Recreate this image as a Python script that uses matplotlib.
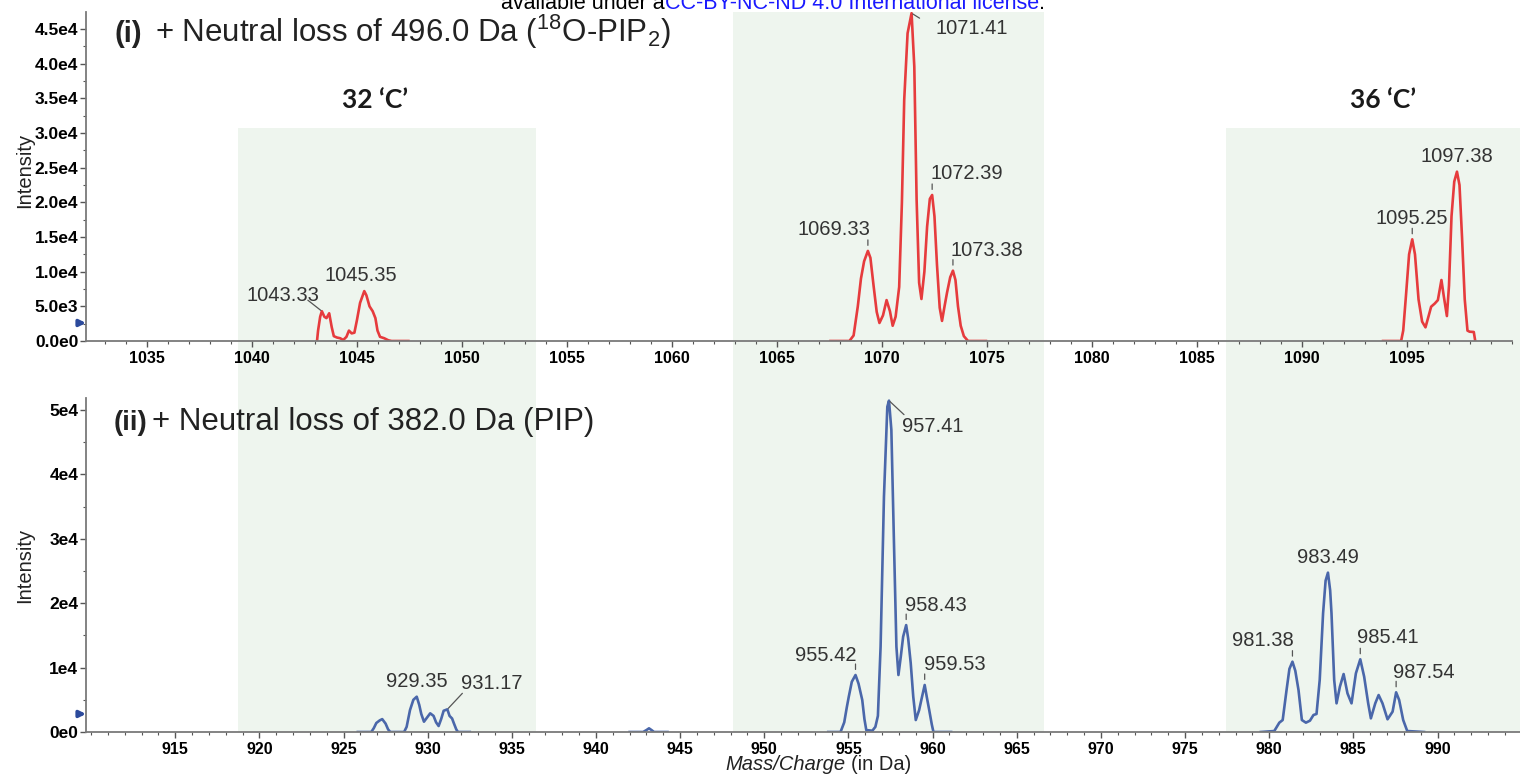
import matplotlib
matplotlib.use('Agg')
import matplotlib.pyplot as plt
from matplotlib.patches import Rectangle
from matplotlib.ticker import MultipleLocator, FixedLocator

plt.rcParams['font.family'] = ['Liberation Sans', 'DejaVu Sans']

W, H = 1520, 778

# ---- (i) neutral loss of 496.0 Da (18O-PIP2), one list pair per cluster ----
pip2_mz_32c = [1043.10, 1043.15, 1043.25, 1043.33, 1043.45, 1043.55, 1043.68, 1043.80,
               1043.90, 1044.05, 1044.20, 1044.35, 1044.50, 1044.62, 1044.75, 1044.88,
               1045.00, 1045.15, 1045.35, 1045.45, 1045.60, 1045.75, 1045.88, 1045.98,
               1046.10, 1046.30, 1046.50, 1046.65, 1047.45]
pip2_int_32c = [0, 1500, 3500, 4300, 3500, 3300, 4000, 2000,
                700, 500, 400, 150, 600, 1500, 1100, 1200,
                3000, 5500, 7200, 6600, 5000, 4300, 3300, 1500,
                600, 400, 100, 0, 0]

pip2_mz_34c = [1067.55, 1068.45, 1068.65, 1068.85, 1069.00, 1069.15, 1069.33, 1069.45,
               1069.60, 1069.75, 1069.88, 1070.05, 1070.22, 1070.38, 1070.51, 1070.65,
               1070.82, 1070.95, 1071.06, 1071.22, 1071.41, 1071.54, 1071.65, 1071.77,
               1071.88, 1072.02, 1072.15, 1072.28, 1072.39, 1072.50, 1072.62, 1072.75,
               1072.86, 1072.98, 1073.10, 1073.25, 1073.38, 1073.50, 1073.62, 1073.75,
               1073.90, 1074.10, 1074.95]
pip2_int_34c = [0, 0, 800, 5000, 9000, 11500, 13000, 12000,
                8000, 4200, 2600, 3700, 5900, 4300, 2200, 3500,
                7800, 20000, 34800, 44400, 47300, 39600, 20400, 8400,
                6060, 10000, 16500, 20500, 21070, 18000, 11000, 4800,
                2900, 5000, 7000, 9200, 10150, 8800, 5000, 2200,
                700, 0, 0]

pip2_mz_36c = [1093.86, 1094.72, 1094.82, 1094.95, 1095.10, 1095.25, 1095.38, 1095.55,
               1095.72, 1095.88, 1096.02, 1096.15, 1096.32, 1096.47, 1096.64, 1096.75,
               1096.90, 1097.00, 1097.12, 1097.25, 1097.38, 1097.50, 1097.62, 1097.75,
               1097.88, 1097.98, 1098.18, 1098.25]
pip2_int_36c = [0, 0, 1500, 6500, 12500, 14670, 12500, 6000,
                2800, 1970, 3500, 4950, 5400, 5900, 8800, 6500,
                3600, 8000, 18000, 23000, 24430, 22500, 15000, 6000,
                1500, 1340, 1300, 0]

pip2_peaks = [1043.33, 1045.35, 1069.33, 1071.41, 1072.39, 1073.38, 1095.25, 1097.38]

# ---- (ii) neutral loss of 382.0 Da (PIP) ----
pip_mz_32c = [925.85, 926.65, 926.80, 926.95, 927.15, 927.30, 927.50, 927.65, 927.78,
              928.60, 928.75, 928.95, 929.15, 929.35, 929.50, 929.62, 929.78, 929.95,
              930.15, 930.35, 930.50, 930.65, 930.80, 930.95, 931.17, 931.30, 931.45,
              931.55, 931.70, 931.80, 932.50]
pip_int_32c = [0, 0, 600, 1400, 1800, 2000, 1300, 400, 0,
               0, 800, 3400, 5000, 5480, 4200, 2800, 1600, 2200,
               2900, 2500, 1500, 930, 2000, 3300, 3520, 2500, 2100,
               1400, 400, 0, 0]

pip_mz_943 = [942.00, 942.80, 943.00, 943.15, 943.30, 943.45, 944.25]
pip_int_943 = [0, 0, 300, 570, 300, 0, 0]

pip_mz_34c = [953.80, 954.53, 954.75, 954.90, 955.02, 955.20, 955.42, 955.60, 955.82,
              955.95, 956.06, 956.42, 956.60, 956.75, 956.91, 957.11, 957.31, 957.41,
              957.55, 957.71, 957.85, 957.97, 958.11, 958.25, 958.43, 958.55, 958.70,
              958.85, 959.00, 959.20, 959.35, 959.53, 959.65, 959.80, 959.95, 960.05,
              961.10]
pip_int_34c = [0, 0, 1500, 3800, 5480, 7800, 8850, 7500, 4970,
               2000, 300, 200, 800, 2500, 13250, 36540, 50500, 51450,
               46900, 28780, 13250, 8850, 11700, 14800, 16600, 14500, 10700,
               5500, 1860, 3400, 5200, 7300, 5500, 3400, 1200, 0,
               0]

pip_mz_36c = [979.50, 980.30, 980.60, 980.80, 981.03, 981.20, 981.38, 981.55, 981.74,
              981.94, 982.18, 982.42, 982.63, 982.81, 983.00, 983.20, 983.35, 983.49,
              983.62, 983.70, 983.86, 984.00, 984.20, 984.42, 984.65, 984.89, 985.15,
              985.41, 985.64, 985.88, 986.04, 986.30, 986.50, 986.73, 987.03, 987.33,
              987.54, 987.72, 987.96, 988.20, 989.20]
pip_int_36c = [0, 150, 1450, 1860, 6520, 9800, 10920, 9500, 6520,
               1860, 1450, 1760, 2640, 2800, 8070, 18430, 23500, 24740,
               22000, 18430, 8070, 4450, 7040, 9000, 6000, 4450, 9110,
               11290, 8600, 4450, 2120, 4450, 5740, 4450, 1970, 3160,
               6160, 4970, 1860, 150, 0]

pip_peaks = [929.35, 931.17, 955.42, 957.41, 958.43, 959.53, 981.38, 983.49, 985.41, 987.54]

top_xticks = list(range(1035, 1100, 5))
bot_xticks = list(range(915, 995, 5))
top_yticks = [0, 5000, 10000, 15000, 20000, 25000, 30000, 35000, 40000, 45000]
top_yticklabels = ['0.0e0', '5.0e3', '1.0e4', '1.5e4', '2.0e4', '2.5e4',
                   '3.0e4', '3.5e4', '4.0e4', '4.5e4']
bot_yticks = [0, 10000, 20000, 30000, 40000, 50000]
bot_yticklabels = ['0e0', '1e4', '2e4', '3e4', '4e4', '5e4']

RED = '#e63b3d'
BLUE = '#4a67aa'
SHADE = '#eef5ee'
LABEL_C = '#333333'


def fx(px):
    return px / W


def fy(py):
    return 1 - py / H


fig = plt.figure(figsize=(W / 100, H / 100), dpi=100)

# carbon-number windows, drawn across both panels
for x0, y0, x1, y1 in [(238, 128, 536, 732), (733, 12, 1044, 732), (1226, 128, 1520, 732)]:
    fig.add_artist(Rectangle((fx(x0), fy(y1)), fx(x1) - fx(x0), fy(y0) - fy(y1),
                             transform=fig.transFigure, facecolor=SHADE,
                             edgecolor='none', zorder=-5))

ax1 = fig.add_axes([fx(86), fy(341), fx(1512) - fx(86), fy(12) - fy(341)])
ax2 = fig.add_axes([fx(86), fy(732), fx(1520) - fx(86), fy(398) - fy(732)])


def style_axis(ax, xticks, yticks, yticklabels):
    ax.set_facecolor('none')
    for s in ['top', 'right']:
        ax.spines[s].set_visible(False)
    for s in ['left', 'bottom']:
        ax.spines[s].set_color('#7a7a7a')
        ax.spines[s].set_linewidth(1.3)
    ax.xaxis.set_major_locator(FixedLocator(xticks))
    ax.xaxis.set_minor_locator(MultipleLocator(1))
    ax.yaxis.set_major_locator(FixedLocator(yticks))
    ax.set_yticklabels(yticklabels)
    ax.yaxis.set_minor_locator(MultipleLocator(yticks[1] / 2))
    ax.tick_params(which='major', length=4, width=1, color='#555555')
    ax.tick_params(axis='x', which='major', labelsize=11.5, pad=3)
    ax.tick_params(axis='y', which='major', labelsize=12.5, pad=1.5)
    ax.tick_params(which='minor', length=2, width=0.8, color='#555555')
    for t in ax.get_xticklabels() + ax.get_yticklabels():
        t.set_fontweight('bold')


def peak_height(mzs, ints, x):
    for m, v in zip(mzs, ints):
        if abs(m - x) < 1e-6:
            return v
    return 0


# top panel traces
for mz, inten in [(pip2_mz_32c, pip2_int_32c), (pip2_mz_34c, pip2_int_34c),
                  (pip2_mz_36c, pip2_int_36c)]:
    ax1.plot(mz, inten, color=RED, lw=1.9, solid_joinstyle='round')
ax1.set_xlim(1032.1, 1100.0)
ax1.set_ylim(0, 47470)
style_axis(ax1, top_xticks, top_yticks, top_yticklabels)

# bottom panel traces
for mz, inten in [(pip_mz_32c, pip_int_32c), (pip_mz_943, pip_int_943),
                  (pip_mz_34c, pip_int_34c), (pip_mz_36c, pip_int_36c)]:
    ax2.plot(mz, inten, color=BLUE, lw=1.9, solid_joinstyle='round')
ax2.set_xlim(909.7, 994.9)
ax2.set_ylim(0, 51860)
style_axis(ax2, bot_xticks, bot_yticks, bot_yticklabels)

# label placement: text offset (px) and leader style
top_place = {1043.33: (-39, 16, (-14, 11)), 1045.35: (-3, 16, None),
             1069.33: (-34, 21, 'tick'), 1071.41: (60, -15, (8, -5)),
             1072.39: (35, 21, 'tick'), 1073.38: (34, 20, 'tick'),
             1095.25: (0, 21, 'tick'), 1097.38: (0, 15, None)}
bot_place = {929.35: (0, 15, None), 931.17: (44, 26, (15, 16)),
             955.42: (-30, 20, 'tick'), 957.41: (44, -26, (15, -14)),
             958.43: (30, 20, 'tick'), 959.53: (30, 20, 'tick'),
             981.38: (-30, 21, 'tick'), 983.49: (0, 15, None),
             985.41: (28, 22, 'tick'), 987.54: (28, 20, 'tick')}


def label_peaks(ax, peaks, place, series):
    for p in peaks:
        h = max(peak_height(m, v, p) for m, v in series)
        dx, dy, leader = place[p]
        ax.annotate(f'{p:.2f}', xy=(p, h), xytext=(dx, dy), textcoords='offset pixels',
                    ha='center', va='center', fontsize=14.5, color=LABEL_C)
        if leader == 'tick':
            ax.annotate('', xy=(p, h), xytext=(0, 11), textcoords='offset pixels',
                        arrowprops=dict(arrowstyle='-', color='#555555', lw=0.9,
                                        shrinkA=0, shrinkB=4))
        elif leader is not None:
            ax.annotate('', xy=(p, h), xytext=leader, textcoords='offset pixels',
                        arrowprops=dict(arrowstyle='-', color='#555555', lw=0.9,
                                        shrinkA=0, shrinkB=1))


label_peaks(ax1, pip2_peaks, top_place,
            [(pip2_mz_32c, pip2_int_32c), (pip2_mz_34c, pip2_int_34c),
             (pip2_mz_36c, pip2_int_36c)])
label_peaks(ax2, pip_peaks, bot_place,
            [(pip_mz_32c, pip_int_32c), (pip_mz_34c, pip_int_34c),
             (pip_mz_36c, pip_int_36c)])

# small baseline markers on the y axes
for ax, yv in [(ax1, 2600), (ax2, 2800)]:
    ax.annotate('', xy=(0, yv), xycoords=('axes fraction', 'data'),
                xytext=(-8, 0), textcoords='offset pixels',
                arrowprops=dict(arrowstyle='-|>', color='#2c4a9c', lw=2.5,
                                mutation_scale=9, shrinkA=0, shrinkB=0),
                annotation_clip=False)

# panel titles
fig.text(fx(115), fy(42), '(i)', fontsize=21, fontweight='bold', color='#222222',
         va='baseline', ha='left')
fig.text(fx(155), fy(42), r'+ Neutral loss of 496.0 Da ($^{\mathregular{18}}$O-PIP$_{\mathregular{2}}$)',
         fontsize=22.5, color='#222222', va='baseline', ha='left')

fig.text(fx(114), fy(430), '(ii)', fontsize=20, fontweight='bold', color='#222222',
         va='baseline', ha='left')
fig.text(fx(152), fy(430), '+ Neutral loss of 382.0 Da (PIP)', fontsize=22.5,
         color='#222222', va='baseline', ha='left')

# carbon-number headings
for px, txt in [(375, '32 \u2018C\u2019'), (1383, '36 \u2018C\u2019')]:
    fig.text(fx(px), fy(100), txt, fontsize=19, fontweight='bold', color='#1a1a1a',
             ha='center', va='center', family=['Lato', 'Liberation Sans'])

# axis titles
for py in [170, 565]:
    fig.text(fx(25), fy(py), 'Intensity', rotation=90, fontsize=14.5,
             ha='center', va='center', color='#222222')
fig.text(fx(846), fy(765), 'Mass/Charge', fontsize=14.5, style='italic',
         ha='right', va='center', color='#222222')
fig.text(fx(851), fy(765), '(in Da)', fontsize=14.5, ha='left', va='center',
         color='#222222')

# licence line at the top edge
fig.text(fx(665), fy(9), 'available under a', fontsize=15.5, ha='right', va='baseline',
         color='black')
blue = fig.text(fx(665), fy(9), 'CC-BY-NC-ND 4.0 International license', fontsize=15.5,
                ha='left', va='baseline', color='#1a1aff')
fig.canvas.draw()
bb = blue.get_window_extent()
fig.text(bb.x1 / W, fy(9), '.', fontsize=15.5, ha='left', va='baseline', color='black')

fig.savefig('out.png', dpi=100)
